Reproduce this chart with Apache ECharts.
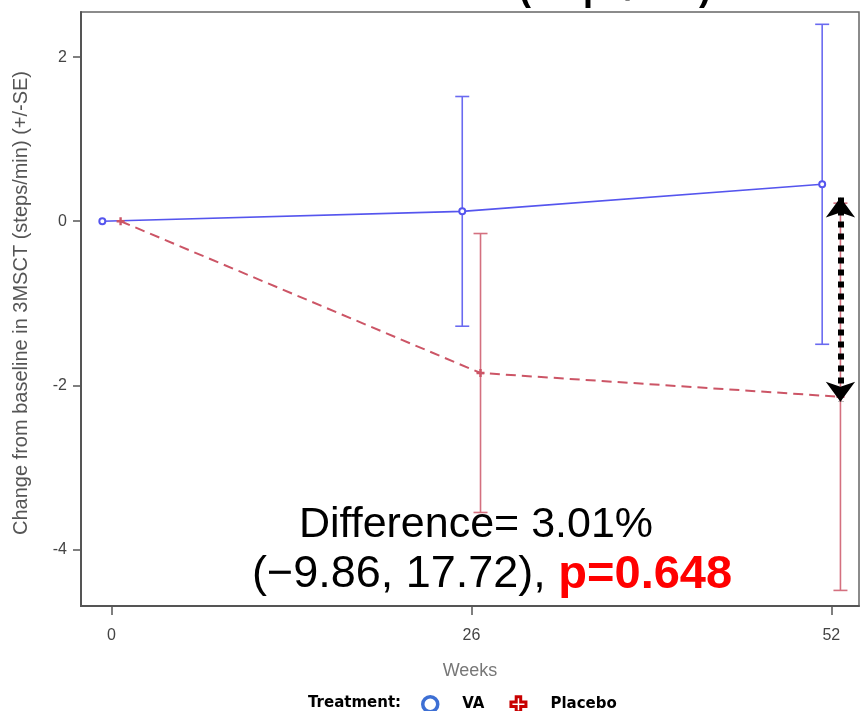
<!DOCTYPE html>
<html>
<head>
<meta charset="utf-8">
<script src="https://cdn.jsdelivr.net/npm/echarts@6/dist/echarts.min.js"></script>
<style>
  html, body { margin: 0; padding: 0; background: #fff; }
  #main { width: 860px; height: 711px; }
</style>
</head>
<body>
<div id="main"></div>
<script>
// weeks on study and mean change (+/- SE) per arm
var weeks = [0, 26, 52];
var vaMean = [0, 0.12, 0.45];
var vaSE = [0, 1.4, 1.95];
var placeboMean = [0, -1.85, -2.14];
var placeboSE = [0, 1.7, 2.36];
var xTicks = [0, 26, 52];
var yTicks = [-4, -2, 0, 2];
// double arrow marking the gap at week 52
var arrowSpan = [0.29, -2.2];

var DODGE = 0.66;
var plus = 'path://M3.5,0H6.5V3.5H10V6.5H6.5V10H3.5V6.5H0V3.5H3.5Z';

function pts(mean, shift) {
    return weeks.map(function (w, i) { return [w + shift, mean[i]]; });
}
function bars(mean, se, shift) {
    var out = [];
    weeks.forEach(function (w, i) {
        if (se[i] > 0) out.push([w + shift, mean[i] - se[i], mean[i] + se[i]]);
    });
    return out;
}
function errorBar(color) {
    return function (params, api) {
        var x = api.value(0);
        var top = api.coord([x, api.value(2)]);
        var bot = api.coord([x, api.value(1)]);
        var st = { stroke: color, lineWidth: 1.6 };
        return {
            type: 'group',
            children: [
                { type: 'line', shape: { x1: top[0], y1: top[1], x2: bot[0], y2: bot[1] }, style: st },
                { type: 'line', shape: { x1: top[0] - 7, y1: top[1], x2: top[0] + 7, y2: top[1] }, style: st },
                { type: 'line', shape: { x1: bot[0] - 7, y1: bot[1], x2: bot[0] + 7, y2: bot[1] }, style: st }
            ]
        };
    };
}

var myChart = echarts.init(document.getElementById('main'));

var option = {
    animation: false,
    grid: { left: 81, right: 1, top: 12, bottom: 105, show: true, borderColor: '#666', borderWidth: 1.5 },
    legend: {
        left: 421, top: 695, padding: 0,
        itemWidth: 18, itemHeight: 15, itemGap: 25,
        textStyle: { fontFamily: 'DejaVu Sans', fontWeight: 'bold', fontSize: 15, color: '#000', padding: [0, 0, 0, 18] },
        data: [
            { name: 'VA', icon: 'circle', itemStyle: { color: '#fff', borderColor: '#3d6fd4', borderWidth: 3.5 } },
            { name: 'Placebo', icon: plus, itemStyle: { color: '#fff', borderColor: '#c80000', borderWidth: 3 } }
        ]
    },
    xAxis: {
        type: 'value', min: -2.2, max: 54,
        name: 'Weeks', nameLocation: 'middle', nameGap: 56,
        nameTextStyle: { fontFamily: 'Liberation Sans Narrow, Liberation Sans', fontSize: 18, color: '#777' },
        axisLine: { show: true, onZero: false, lineStyle: { color: '#555', width: 2 } },
        axisTick: { show: true, length: 9, customValues: xTicks, lineStyle: { color: '#555', width: 1.5 } },
        axisLabel: { customValues: xTicks, margin: 22, fontFamily: 'Liberation Sans Narrow, Liberation Sans', fontSize: 16, color: '#444' },
        splitLine: { show: false }
    },
    yAxis: {
        type: 'value', min: -4.69, max: 2.55,
        axisLine: { show: true, onZero: false, lineStyle: { color: '#555', width: 2 } },
        axisTick: { show: true, length: 8, customValues: yTicks, lineStyle: { color: '#555', width: 1.5 } },
        axisLabel: { customValues: yTicks, margin: 14, fontFamily: 'Liberation Sans Narrow, Liberation Sans', fontSize: 16, color: '#444' },
        splitLine: { show: false }
    },
    graphic: [
        { type: 'text', left: 519, top: -28, style: { text: '(steps/min)', font: 'bold 36px Liberation Sans', fill: '#000' } },
        {
            type: 'text', x: 21, y: 303, rotation: Math.PI / 2,
            style: { text: 'Change from baseline in 3MSCT (steps/min) (+/-SE)', font: '20px Liberation Sans', fill: '#555', align: 'center', verticalAlign: 'middle' }
        },
        { type: 'text', left: 308, top: 696, style: { text: 'Treatment:', font: 'bold 15px DejaVu Sans', fill: '#000' } },
        { type: 'text', x: 476, y: 525, style: { text: 'Difference= 3.01%', font: '43px Liberation Sans', fill: '#000', align: 'center', verticalAlign: 'middle' } },
        {
            type: 'text', x: 492, y: 575,
            style: {
                text: '{a|(\u22129.86, 17.72), }{b|p=0.648}', align: 'center', verticalAlign: 'middle',
                rich: {
                    a: { font: '45px Liberation Sans', fill: '#000', color: '#000' },
                    b: { font: 'bold 47px Liberation Sans', fill: '#ff0000', color: '#ff0000' }
                }
            }
        }
    ],
    series: [
        { name: 'VA SE', type: 'custom', renderItem: errorBar('#6a6af0'), data: bars(vaMean, vaSE, -DODGE), z: 2 },
        { name: 'Placebo SE', type: 'custom', renderItem: errorBar('#d4707f'), data: bars(placeboMean, placeboSE, DODGE), z: 2 },
        {
            name: 'VA', type: 'line', data: pts(vaMean, -DODGE), z: 3,
            symbol: 'emptyCircle', symbolSize: 6,
            lineStyle: { color: '#5555ee', width: 1.6 },
            itemStyle: { color: '#5555ee', borderColor: '#5555ee', borderWidth: 2 }
        },
        {
            name: 'Placebo', type: 'line', data: pts(placeboMean, DODGE), z: 3,
            symbol: plus, symbolSize: 8,
            lineStyle: { color: '#cc5566', width: 2, type: [10, 6] },
            itemStyle: { color: '#cc5566' },
            markLine: {
                silent: true, z: 5,
                symbol: ['arrow', 'arrow'], symbolSize: [22, 20],
                label: { show: false },
                lineStyle: { color: '#000', width: 6, type: [6, 6], opacity: 1 },
                data: [[{ coord: [weeks[2] + DODGE, arrowSpan[0]] }, { coord: [weeks[2] + DODGE, arrowSpan[1]] }]]
            }
        }
    ]
};
myChart.setOption(option);
</script>
</body>
</html>
